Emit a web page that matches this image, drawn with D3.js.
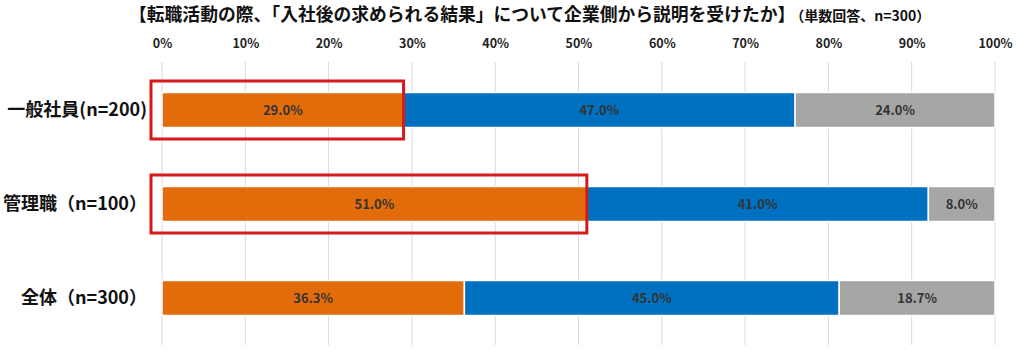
<!DOCTYPE html>
<html lang="ja">
<head>
<meta charset="utf-8">
<title>企業側からの説明</title>
<script src="https://cdn.jsdelivr.net/npm/d3@7"></script>
<style>
  body { margin: 0; background: #fff; }
  text { font-family: "Noto Sans CJK JP", "Noto Sans", sans-serif; }
</style>
</head>
<body>
<script>
// data
var categories = ["一般社員(n=200)", "管理職（n=100）", "全体（n=300）"];
var seriesKeys = ["a", "b", "c"];
var valuesA = [29.0, 51.0, 36.3];
var valuesB = [47.0, 41.0, 45.0];
var valuesC = [24.0, 8.0, 18.7];
var tickValues = [0, 10, 20, 30, 40, 50, 60, 70, 80, 90, 100];
var highlighted = [0, 1]; // rows whose first segment is boxed in red

var w = 1024, h = 354;
var colors = { a: "#E36C0A", b: "#0070C0", c: "#A6A6A6" };

var rows = categories.map(function(c, i) {
  return { cat: c, a: valuesA[i], b: valuesB[i], c: valuesC[i] };
});

var svg = d3.select("body").append("svg")
  .attr("width", w).attr("height", h);

var x = d3.scaleLinear().domain([0, 100]).range([162, 995]);
var y = d3.scaleBand().domain(categories).range([63, 345]);
var barH = 35;

// title
var title = svg.append("text")
  .attr("x", 129).attr("y", 21)
  .attr("font-weight", "bold").attr("fill", "#111");
title.append("tspan").attr("font-size", 17.8)
  .text("【転職活動の際、「入社後の求められる結果」について企業側から説明を受けたか】");
title.append("tspan").attr("font-size", 14).attr("dx", 2)
  .text("（単数回答、n=300）");

// gridlines
svg.append("g").selectAll("line")
  .data(tickValues).enter().append("line")
  .attr("x1", function(d) { return x(d); })
  .attr("x2", function(d) { return x(d); })
  .attr("y1", 62).attr("y2", 345)
  .attr("stroke", "#d9d9d9").attr("stroke-width", 1);

// top axis
var axis = svg.append("g")
  .attr("transform", "translate(0,48)")
  .call(d3.axisTop(x).tickValues(tickValues)
    .tickFormat(function(d) { return d + "%"; }).tickSize(0).tickPadding(0));
axis.select(".domain").remove();
axis.selectAll("text")
  .attr("font-size", 12.5).attr("font-weight", "bold").attr("fill", "#222")
  .style("font-family", "\"Noto Sans CJK JP\", sans-serif");

// stacked bars
var stack = d3.stack().keys(seriesKeys)(rows);

var layers = svg.append("g").selectAll("g")
  .data(stack).enter().append("g")
  .attr("fill", function(d) { return colors[d.key]; });

layers.selectAll("rect")
  .data(function(d) { return d; }).enter().append("rect")
  .attr("x", function(d) { return x(d[0]); })
  .attr("width", function(d) { return x(d[1]) - x(d[0]); })
  .attr("y", function(d) { return y(d.data.cat) + y.bandwidth() / 2 - barH / 2; })
  .attr("height", barH)
  .attr("stroke", "#fff").attr("stroke-width", 1.5);

layers.selectAll("text")
  .data(function(d) { return d; }).enter().append("text")
  .attr("x", function(d) { return (x(d[0]) + x(d[1])) / 2; })
  .attr("y", function(d) { return y(d.data.cat) + y.bandwidth() / 2; })
  .attr("dy", "0.35em")
  .attr("text-anchor", "middle")
  .attr("font-size", 13).attr("font-weight", "bold")
  .attr("fill", "#333")
  .text(function(d) { return (d[1] - d[0]).toFixed(1) + "%"; });

// category labels
svg.append("g").selectAll("text")
  .data(categories).enter().append("text")
  .attr("x", 147)
  .attr("y", function(d) { return y(d) + y.bandwidth() / 2; })
  .attr("dy", "0.35em")
  .attr("text-anchor", "end")
  .attr("font-size", 18).attr("font-weight", "bold").attr("fill", "#111")
  .text(function(d) { return d; });

// red highlight boxes
svg.append("g").selectAll("rect")
  .data(highlighted).enter().append("rect")
  .attr("x", 151)
  .attr("width", function(i) { return x(valuesA[i]) - 151; })
  .attr("y", function(i) { return y(categories[i]) + y.bandwidth() / 2 - 29; })
  .attr("height", 58)
  .attr("fill", "none")
  .attr("stroke", "#D7191C").attr("stroke-width", 3);
</script>
</body>
</html>
